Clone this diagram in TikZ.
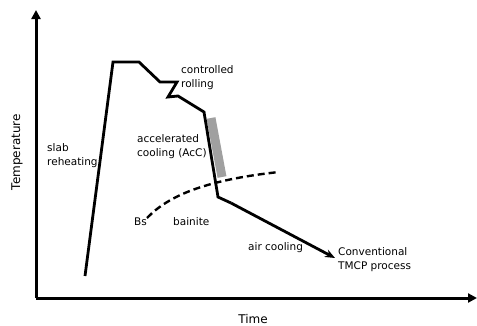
\documentclass[tikz,border=0pt]{standalone}
\usepackage{fontspec}
\setmainfont{DejaVu Sans}
\usetikzlibrary{arrows.meta, positioning}

\begin{document}
\begin{tikzpicture}[x=1pt, y=-1pt,
    axis/.style={line width=3pt, -{Triangle[length=9pt, width=9pt]}},
    route/.style={line width=2.8pt, line join=miter},
    note/.style={font=\fontsize{10.5}{14}\selectfont, align=left, inner sep=0pt, anchor=west},
    axislabel/.style={font=\fontsize{12}{14}\selectfont}
]
    \useasboundingbox (0,0) rectangle (477,325);

    % axes
    \coordinate (origin) at (36,298);
    \coordinate (ytip) at (36,10);
    \coordinate (xtip) at (477,298);
    \draw[axis] (origin) -- (ytip);
    \draw[axis] (origin) -- (xtip);
    \node[axislabel, rotate=90] (temp) at (17,152) {Temperature};
    \node[axislabel, anchor=base, inner sep=0pt] (time) at (253,323) {Time};

    % accelerated cooling band
    \coordinate (acctop) at (211,118);
    \coordinate (accbot) at (222,177);
    \draw[line width=9pt, draw={rgb,255:red,160;green,160;blue,160}] (acctop) -- (accbot);

    % bainite start
    \coordinate (bsstart) at (147,218);
    \coordinate (bsend) at (279,172);
    \draw[line width=2.4pt, dash pattern=on 7pt off 4pt]
        (bsstart) .. controls (168,196) and (205,180) .. (bsend);

    % process route
    \coordinate (start) at (85,276);
    \coordinate (heat) at (113,62);
    \coordinate (hold) at (139,62);
    \coordinate (r1) at (160,82);
    \coordinate (r2) at (177,82);
    \coordinate (r3) at (168,97);
    \coordinate (r4) at (178,96);
    \coordinate (acc) at (204,112);
    \coordinate (fin) at (218,197);
    \coordinate (air) at (231,203);
    \coordinate (tmcp) at (335,258);
    \draw[route] (start) -- (heat) -- (hold) -- (r1) -- (r2) -- (r3) -- (r4)
        -- (acc) -- (fin) -- (air);
    \draw[route, -{Stealth[length=10pt, width=8pt]}] (air) -- (tmcp);

    % labels
    \node[note] (rolling) at (181,78) {controlled\\rolling};
    \node[note] (slab) at (47,156) {slab\\reheating};
    \node[note] (accel) at (137,147) {accelerated\\cooling (AcC)};
    \node[note] (bs) at (134,222) {Bs};
    \node[note] (bainite) at (173,222) {bainite};
    \node[note] (aircool) at (248,248) {air cooling};
    \node[note] (conv) at (338,260) {Conventional\\TMCP process};
\end{tikzpicture}
\end{document}
